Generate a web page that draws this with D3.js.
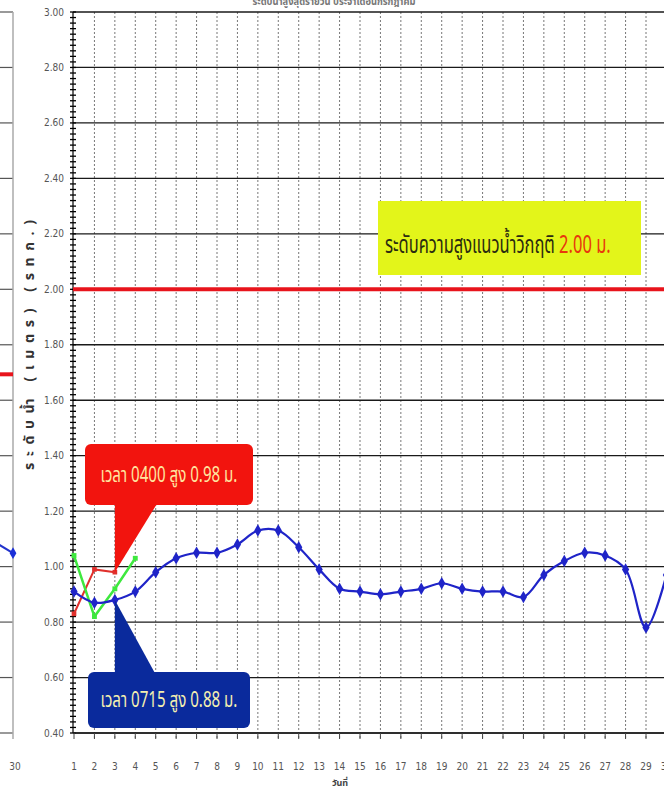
<!DOCTYPE html>
<html><head><meta charset="utf-8">
<script src="https://cdn.jsdelivr.net/npm/d3@7/dist/d3.min.js"></script>
<style>
html,body{margin:0;padding:0;background:#fff;overflow:hidden}
svg{display:block}
.num{font-family:"Liberation Sans Narrow","DejaVu Sans Condensed","Liberation Sans",sans-serif}
.th{font-family:"Noto Sans Thai","Noto Sans","Loma","Garuda","DejaVu Sans",sans-serif}
</style></head>
<body>
<svg id="c" width="664" height="789"></svg>
<script>
// ---- data ----
const days = d3.range(1, 31);
const dailyMax = [0.91,0.87,0.88,0.91,0.98,1.03,1.05,1.05,1.08,1.13,1.13,1.07,0.99,0.92,0.91,0.90,0.91,0.92,0.94,0.92,0.91,0.91,0.89,0.97,1.02,1.05,1.04,0.99,0.78,0.97];
const redDays = [1,2,3];
const redValues = [0.83,0.99,0.98];
const greenDays = [1,2,3,4];
const greenValues = [1.04,0.82,0.92,1.03];
const criticalLevel = 2.00;
const yTicks = [0.40,0.60,0.80,1.00,1.20,1.40,1.60,1.80,2.00,2.20,2.40,2.60,2.80,3.00];
const prevDays = [29,30];
const prevValues = [1.40,1.355];
const titleText = "ระดับน้ำสูงสุดรายวัน ประจำเดือนกรกฎาคม";
const yTitle = "ระดับน้ำ (เมตร) (รทก.)";
const xTitle = "วันที่";
const criticalLabel = "ระดับความสูงแนวน้ำวิกฤติ";
const criticalValueLabel = "2.00 ม.";
const redNote = "เวลา 0400 สูง 0.98 ม.";
const blueNote = "เวลา 0715 สูง 0.88 ม.";

// ---- layout ----
const svg = d3.select("#c");
const W = 664;
const x = d3.scaleLinear().domain([1, 29]).range([74, 646]);
const y = d3.scaleLinear().domain([0.4, 3.0]).range([733, 12]);
const axisX = 73;

// title (cropped at top, as in the reference)
svg.append("text").attr("class","th").attr("x",334).attr("y",5)
  .attr("text-anchor","middle").attr("font-size",11).attr("fill","#777")
  .attr("font-weight","bold").attr("transform","translate(334,0) scale(0.85,1) translate(-334,0)")
  .text(titleText);

// ---- left partial panel (previous chart) ----
const prevX = d3.scaleLinear().domain([29,30]).range([13-20.43, 13]);
const prevY = d3.scaleLinear().domain([2.0, 1.0]).range([y(2.0)+85, y(2.0)+85+277.3]);
const lp = svg.append("g");
lp.selectAll("line.h").data(yTicks).join("line")
  .attr("x1",0).attr("x2",13).attr("y1",d=>y(d)).attr("y2",d=>y(d))
  .attr("stroke","#555").attr("stroke-width",1.2);
lp.append("line").attr("x1",13).attr("x2",13).attr("y1",y(3.0)).attr("y2",y(0.4)+6)
  .attr("stroke","#aaa").attr("stroke-width",1.5);
lp.append("line").attr("x1",0).attr("x2",13).attr("y1",prevY(criticalLevel)).attr("y2",prevY(criticalLevel))
  .attr("stroke","#e8141c").attr("stroke-width",4);
lp.append("path").datum(prevDays.map((d,i)=>[prevX(d),prevY(prevValues[i])]))
  .attr("d",d3.line()).attr("fill","none").attr("stroke","#2233cc").attr("stroke-width",2);
lp.append("path").attr("d",d3.symbol(d3.symbolDiamond,40)())
  .attr("transform",`translate(${prevX(30)},${prevY(prevValues[1])})`).attr("fill","#1a2fd8");
lp.append("text").attr("class","num").attr("x",prevX(30)+2).attr("y",770).attr("text-anchor","middle")
  .attr("font-size",10).attr("fill","#555").text("30");

// ---- main grid ----
const g = svg.append("g");
g.selectAll("line.v").data(d3.range(2, 32)).join("line")
  .attr("x1",d=>x(d)).attr("x2",d=>x(d)).attr("y1",y(3.0)).attr("y2",y(0.4)+5)
  .attr("stroke","#777").attr("stroke-width",1).attr("stroke-dasharray","2,2");
g.selectAll("line.h").data(yTicks).join("line")
  .attr("x1",axisX).attr("x2",W).attr("y1",d=>y(d)).attr("y2",d=>y(d))
  .attr("stroke","#1a1a1a").attr("stroke-width",1.3);

// y axis with minor ticks
g.append("line").attr("x1",axisX).attr("x2",axisX).attr("y1",y(3.0)).attr("y2",y(0.4))
  .attr("stroke","#000").attr("stroke-width",1.2);
const minor = d3.range(0, 131).map(i => 0.4 + i*0.02);
g.selectAll("line.mt").data(minor).join("line")
  .attr("x1",axisX-3).attr("x2",axisX+3).attr("y1",d=>y(d)).attr("y2",d=>y(d))
  .attr("stroke","#000").attr("stroke-width",1.3);
g.selectAll("text.yt").data(yTicks).join("text").attr("class","num")
  .attr("x",64).attr("y",d=>y(d)+3.5).attr("text-anchor","end")
  .attr("font-size",10).attr("fill","#555").text(d=>d.toFixed(2));

// x axis
g.append("line").attr("x1",axisX).attr("x2",W).attr("y1",y(0.4)).attr("y2",y(0.4))
  .attr("stroke","#222").attr("stroke-width",1.3);
g.selectAll("line.xt").data(days).join("line")
  .attr("x1",d=>x(d)).attr("x2",d=>x(d)).attr("y1",y(0.4)).attr("y2",y(0.4)+6)
  .attr("stroke","#444").attr("stroke-width",1);
g.selectAll("text.xl").data(days).join("text").attr("class","num")
  .attr("x",d=>x(d)).attr("y",770).attr("text-anchor","middle")
  .attr("font-size",10).attr("fill","#555").text(d=>d);
svg.append("text").attr("class","th").attr("x",340).attr("y",786).attr("text-anchor","middle")
  .attr("font-size",9).attr("font-weight","bold").attr("fill","#444").text(xTitle);

// y title
svg.append("text").attr("class","th")
  .attr("transform",`translate(34,345) rotate(-90)`).attr("text-anchor","middle")
  .attr("font-size",14).attr("font-weight","bold").attr("fill","#333")
  .attr("textLength",250).attr("lengthAdjust","spacing").text(yTitle);

// critical level
g.append("line").attr("x1",axisX).attr("x2",W).attr("y1",y(criticalLevel)).attr("y2",y(criticalLevel))
  .attr("stroke","#e8141c").attr("stroke-width",4);

// critical label
const cb = svg.append("g");
cb.append("rect").attr("x",378).attr("y",201).attr("width",263).attr("height",74).attr("fill","#e3f51a");
const ct = cb.append("text").attr("class","th").attr("font-size",25)
  .attr("transform","translate(385,253) scale(0.66,1)");
ct.append("tspan").attr("fill","#2a2a10").text(criticalLabel + " ");
ct.append("tspan").attr("fill","#e8380c").text(criticalValueLabel);

// ---- series ----
const line = d3.line().x((d)=>x(d[0])).y(d=>y(d[1]));
function series(dd, vv, color, width, curve, sym, size){
  const pts = dd.map((d,i)=>[d, vv[i]]);
  svg.append("path").datum(pts).attr("d", line.curve(curve)).attr("fill","none")
    .attr("stroke",color).attr("stroke-width",width);
  svg.selectAll(null).data(pts).join("path")
    .attr("d", d3.symbol(sym, size)())
    .attr("transform", d=>`translate(${x(d[0])},${y(d[1])})`).attr("fill",color);
}
series(redDays, redValues, "#e0302c", 2, d3.curveLinear, d3.symbolSquare, 22);
series(greenDays, greenValues, "#3ee83e", 2.5, d3.curveLinear, d3.symbolSquare, 24);
series(days, dailyMax, "#1f24c8", 2.2, d3.curveCatmullRom.alpha(0.5), d3.symbolDiamond, 45);

// ---- callouts ----
function callout(tipDay, tipVal, box, baseW, color, textColor, txt){
  const tx = x(tipDay), ty = y(tipVal);
  const gc = svg.append("g");
  const baseY = box.above ? box.y + box.h - 1 : box.y + 1;
  gc.append("path").attr("d",`M${tx},${ty}L${tx},${baseY}L${tx+baseW},${baseY}Z`).attr("fill",color);
  gc.append("rect").attr("x",box.x).attr("y",box.y).attr("width",box.w).attr("height",box.h)
    .attr("rx",6).attr("fill",color);
  gc.append("text").attr("class","th").attr("font-size",21).attr("fill",textColor)
    .attr("text-anchor","middle")
    .attr("transform",`translate(${box.x+box.w/2},${box.y+box.h/2+7}) scale(0.72,1)`).text(txt);
}
callout(3, redValues[2], {x:85,y:444,w:168,h:61,above:true}, 42, "#f2140e", "#ffe6a0", redNote);
callout(3, dailyMax[2], {x:88,y:672,w:162,h:56,above:false}, 40, "#0a2a9c", "#f4f0b0", blueNote);
</script>
</body></html>
